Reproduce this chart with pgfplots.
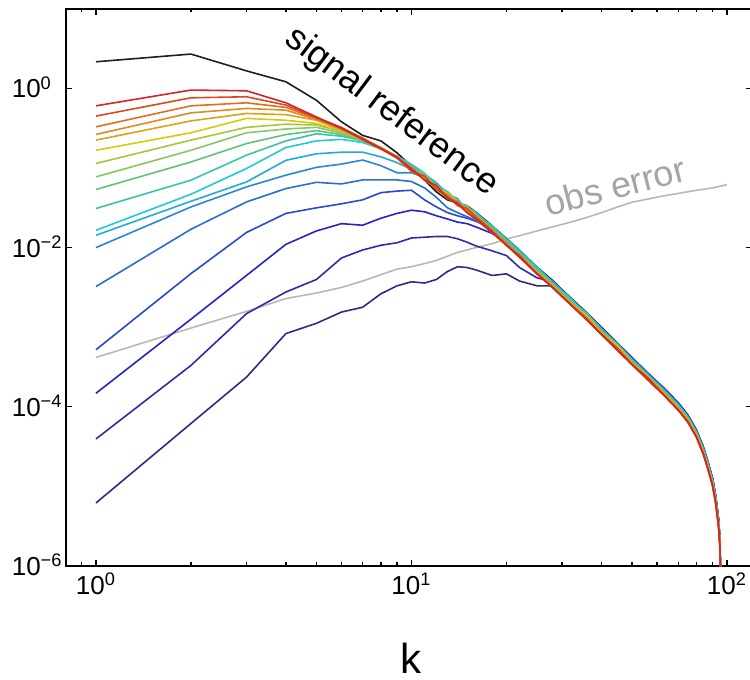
\documentclass[border=0pt]{standalone}
\usepackage{fontspec}
\setmainfont{Liberation Sans}
\usepackage{pgfplots}
\pgfplotsset{compat=1.18}
\usepackage{pgfplotstable}
\definecolor{col1}{HTML}{2C2C84}
\definecolor{col2}{HTML}{2C2CA8}
\definecolor{col3}{HTML}{2424C8}
\definecolor{col4}{HTML}{2A48D0}
\definecolor{col5}{HTML}{2A6CD2}
\definecolor{col6}{HTML}{2A86D8}
\definecolor{col7}{HTML}{26A8DC}
\definecolor{col8}{HTML}{22C8D4}
\definecolor{col9}{HTML}{3EC2A8}
\definecolor{col10}{HTML}{62C27A}
\definecolor{col11}{HTML}{86C768}
\definecolor{col12}{HTML}{A6C63C}
\definecolor{col13}{HTML}{D4CA10}
\definecolor{col14}{HTML}{D9A318}
\definecolor{col15}{HTML}{E08A22}
\definecolor{col16}{HTML}{DE6E22}
\definecolor{col17}{HTML}{D64A22}
\definecolor{col18}{HTML}{D42424}
\definecolor{sigblack}{HTML}{1E1E1E}
\definecolor{obsgray}{HTML}{B8B8B8}
\definecolor{obstext}{HTML}{A4A4A4}

\pgfplotstableread{
k  s       L1      L2      L3      L4      L5      L6      L7      L8      L9      L10     L11     L12     L13     L14     L15     L16     L17     L18
1  2.16    6.19e-6 3.95e-5 1.48e-4 5.21e-4 3.24e-3 1.00e-2 1.43e-2 1.65e-2 3.10e-2 5.37e-2 7.74e-2 1.14e-1 1.67e-1 2.24e-1 2.64e-1 3.29e-1 4.49e-1 6.04e-1
2  2.70    6.17e-5 3.31e-4 1.26e-3 4.71e-3 1.70e-2 3.24e-2 3.82e-2 4.68e-2 7.03e-2 1.19e-1 1.67e-1 2.24e-1 2.77e-1 3.91e-1 4.93e-1 6.04e-1 7.62e-1 9.53e-1
3  1.66    2.36e-4 1.48e-3 4.47e-3 1.55e-2 3.75e-2 5.79e-2 6.68e-2 9.86e-2 1.45e-1 2.03e-1 2.77e-1 3.24e-1 4.20e-1 4.84e-1 5.60e-1 6.59e-1 7.85e-1 9.33e-1
4  1.21    8.32e-4 2.77e-3 1.10e-2 2.69e-2 5.52e-2 8.13e-2 1.25e-1 1.81e-1 2.19e-1 2.63e-1 3.09e-1 3.55e-1 3.98e-1 4.68e-1 5.33e-1 5.77e-1 6.17e-1 6.59e-1
5  7.08e-1 1.12e-3 3.98e-3 1.62e-2 3.16e-2 6.61e-2 1.02e-1 1.51e-1 2.19e-1 2.69e-1 2.95e-1 3.24e-1 3.47e-1 3.63e-1 3.98e-1 4.07e-1 4.17e-1 4.27e-1 4.37e-1
6  3.80e-1 1.55e-3 7.41e-3 2.00e-2 3.55e-2 6.31e-2 1.12e-1 1.58e-1 2.29e-1 2.51e-1 2.63e-1 2.75e-1 2.88e-1 2.95e-1 3.02e-1 3.16e-1 3.09e-1 3.24e-1 3.16e-1
7  2.57e-1 1.78e-3 9.33e-3 1.91e-2 3.98e-2 7.08e-2 1.26e-1 1.58e-1 2.09e-1 2.19e-1 2.19e-1 2.24e-1 2.29e-1 2.29e-1 2.34e-1 2.40e-1 2.29e-1 2.34e-1 2.29e-1
8  2.19e-1 2.63e-3 1.07e-2 2.34e-2 4.90e-2 7.08e-2 1.07e-1 1.38e-1 1.74e-1 1.78e-1 1.74e-1 1.78e-1 1.74e-1 1.78e-1 1.82e-1 1.78e-1 1.74e-1 1.78e-1 1.74e-1
9  1.55e-1 3.31e-3 1.15e-2 2.69e-2 5.13e-2 7.08e-2 8.71e-2 1.17e-1 1.41e-1 1.38e-1 1.35e-1 1.38e-1 1.35e-1 1.38e-1 1.38e-1 1.32e-1 1.35e-1 1.38e-1 1.35e-1
10 1.05e-1 3.72e-3 1.32e-2 2.95e-2 5.25e-2 6.76e-2 8.71e-2 9.55e-2 1.11e-1 1.07e-1 1.02e-1 9.66e-2 1.02e-1 9.12e-2 9.66e-2 9.12e-2 1.02e-1 9.12e-2 9.66e-2
11 7.08e-2 3.59e-3 1.35e-2 2.82e-2 3.98e-2 5.62e-2 7.59e-2 8.32e-2 8.61e-2 7.94e-2 7.50e-2 8.32e-2 7.08e-2 7.50e-2 7.94e-2 7.50e-2 7.08e-2 7.94e-2 7.08e-2
12 5.01e-2 3.98e-3 1.38e-2 2.51e-2 3.24e-2 4.27e-2 6.31e-2 6.53e-2 6.03e-2 6.31e-2 5.37e-2 5.69e-2 5.69e-2 6.03e-2 5.37e-2 5.37e-2 5.69e-2 5.37e-2 6.03e-2
13 3.98e-2 5.01e-3 1.38e-2 2.29e-2 2.75e-2 3.16e-2 4.90e-2 4.68e-2 5.07e-2 4.17e-2 4.42e-2 4.68e-2 4.90e-2 4.17e-2 4.42e-2 4.68e-2 4.17e-2 4.42e-2 4.17e-2
14 3.63e-2 5.75e-3 1.29e-2 2.09e-2 2.51e-2 2.75e-2 3.59e-2 4.12e-2 3.80e-2 3.59e-2 3.98e-2 3.39e-2 3.80e-2 3.59e-2 3.39e-2 3.39e-2 3.80e-2 3.39e-2 3.59e-2
15 3.35e-2 5.62e-3 1.17e-2 2.00e-2 2.34e-2 2.45e-2 3.09e-2 2.92e-2 3.24e-2 3.35e-2 2.75e-2 3.09e-2 2.92e-2 2.75e-2 3.24e-2 2.92e-2 2.75e-2 3.09e-2 2.75e-2
16 2.79e-2 5.25e-3 1.05e-2 1.82e-2 2.14e-2 2.19e-2 2.69e-2 2.69e-2 2.79e-2 2.57e-2 2.57e-2 2.43e-2 2.29e-2 2.43e-2 2.57e-2 2.29e-2 2.29e-2 2.43e-2 2.29e-2
18 1.88e-2 4.47e-3 9.12e-3 1.51e-2 1.74e-2 1.64e-2 1.82e-2 1.82e-2 1.74e-2 1.88e-2 1.74e-2 1.64e-2 1.55e-2 1.64e-2 1.64e-2 1.55e-2 1.55e-2 1.64e-2 1.55e-2
20 1.30e-2 4.68e-3 7.94e-3 1.15e-2 1.26e-2 1.20e-2 1.26e-2 1.30e-2 1.20e-2 1.26e-2 1.20e-2 1.14e-2 1.14e-2 1.07e-2 1.14e-2 1.07e-2 1.14e-2 1.07e-2 1.07e-2
22 9.23e-3 3.80e-3 5.62e-3 7.94e-3 8.91e-3 8.91e-3 8.51e-3 9.23e-3 8.91e-3 8.51e-3 8.51e-3 8.04e-3 8.04e-3 8.04e-3 7.59e-3 7.59e-3 7.59e-3 8.04e-3 7.59e-3
25 5.69e-3 3.31e-3 4.17e-3 5.50e-3 5.50e-3 5.25e-3 5.50e-3 5.50e-3 5.69e-3 5.25e-3 5.25e-3 4.95e-3 4.95e-3 4.95e-3 4.95e-3 4.68e-3 4.68e-3 4.68e-3 4.68e-3
28 3.85e-3 3.31e-3 3.72e-3 3.85e-3 3.72e-3 3.72e-3 3.72e-3 3.72e-3 3.55e-3 3.55e-3 3.55e-3 3.35e-3 3.35e-3 3.35e-3 3.35e-3 3.16e-3 3.16e-3 3.16e-3 3.16e-3
32 2.32e-3 2.32e-3 2.32e-3 2.24e-3 2.24e-3 2.24e-3 2.24e-3 2.24e-3 2.32e-3 2.14e-3 2.14e-3 2.02e-3 2.02e-3 2.02e-3 2.02e-3 1.91e-3 1.91e-3 1.91e-3 1.91e-3
36 1.50e-3 1.50e-3 1.45e-3 1.50e-3 1.45e-3 1.45e-3 1.45e-3 1.45e-3 1.38e-3 1.50e-3 1.38e-3 1.30e-3 1.30e-3 1.38e-3 1.30e-3 1.23e-3 1.30e-3 1.23e-3 1.23e-3
40 9.89e-4 9.89e-4 9.89e-4 9.89e-4 9.55e-4 9.55e-4 9.55e-4 9.55e-4 9.12e-4 9.12e-4 9.12e-4 8.61e-4 8.61e-4 8.61e-4 8.61e-4 8.13e-4 8.13e-4 8.13e-4 8.13e-4
45 6.24e-4 6.24e-4 6.03e-4 6.24e-4 6.03e-4 6.24e-4 6.03e-4 6.03e-4 5.75e-4 5.75e-4 6.03e-4 5.43e-4 5.43e-4 5.75e-4 5.43e-4 5.13e-4 5.13e-4 5.43e-4 5.13e-4
50 4.12e-4 4.12e-4 4.12e-4 4.12e-4 3.98e-4 3.98e-4 3.98e-4 3.98e-4 3.80e-4 3.80e-4 3.80e-4 3.59e-4 3.59e-4 3.59e-4 3.59e-4 3.39e-4 3.39e-4 3.39e-4 3.39e-4
56 2.66e-4 2.66e-4 2.66e-4 2.57e-4 2.57e-4 2.66e-4 2.57e-4 2.57e-4 2.45e-4 2.45e-4 2.45e-4 2.32e-4 2.45e-4 2.32e-4 2.32e-4 2.19e-4 2.19e-4 2.19e-4 2.32e-4
63 1.72e-4 1.72e-4 1.72e-4 1.72e-4 1.66e-4 1.66e-4 1.66e-4 1.66e-4 1.59e-4 1.59e-4 1.59e-4 1.50e-4 1.50e-4 1.50e-4 1.50e-4 1.41e-4 1.41e-4 1.41e-4 1.41e-4
70 1.12e-4 1.12e-4 1.12e-4 1.12e-4 1.08e-4 1.08e-4 1.08e-4 1.08e-4 1.03e-4 1.03e-4 1.03e-4 9.70e-5 9.70e-5 9.70e-5 9.70e-5 9.15e-5 9.15e-5 9.15e-5 9.15e-5
75 7.94e-5 7.94e-5 7.94e-5 7.94e-5 7.67e-5 7.67e-5 7.67e-5 7.67e-5 7.41e-5 7.41e-5 7.41e-5 6.92e-5 6.92e-5 6.92e-5 6.92e-5 6.53e-5 6.53e-5 6.53e-5 6.53e-5
80 5.07e-5 5.07e-5 5.07e-5 5.07e-5 4.90e-5 4.90e-5 4.90e-5 4.90e-5 4.68e-5 4.68e-5 4.68e-5 4.42e-5 4.42e-5 4.42e-5 4.42e-5 4.17e-5 4.17e-5 4.17e-5 4.17e-5
84 3.16e-5 3.16e-5 3.16e-5 3.16e-5 3.05e-5 3.05e-5 3.05e-5 3.05e-5 2.92e-5 2.92e-5 2.92e-5 2.75e-5 2.75e-5 2.75e-5 2.75e-5 2.60e-5 2.60e-5 2.60e-5 2.60e-5
87 2.02e-5 2.02e-5 2.02e-5 2.02e-5 1.95e-5 1.95e-5 1.95e-5 1.95e-5 1.86e-5 1.86e-5 1.86e-5 1.76e-5 1.76e-5 1.76e-5 1.76e-5 1.66e-5 1.66e-5 1.66e-5 1.66e-5
90 1.25e-5 1.25e-5 1.25e-5 1.25e-5 1.20e-5 1.20e-5 1.20e-5 1.20e-5 1.15e-5 1.15e-5 1.15e-5 1.08e-5 1.08e-5 1.08e-5 1.08e-5 1.02e-5 1.02e-5 1.02e-5 1.02e-5
92 7.67e-6 7.67e-6 7.67e-6 7.67e-6 7.41e-6 7.41e-6 7.41e-6 7.41e-6 7.08e-6 7.08e-6 7.08e-6 6.68e-6 6.68e-6 6.68e-6 6.68e-6 6.31e-6 6.31e-6 6.31e-6 6.31e-6
94 3.85e-6 3.85e-6 3.85e-6 3.85e-6 3.72e-6 3.72e-6 3.72e-6 3.72e-6 3.55e-6 3.55e-6 3.55e-6 3.35e-6 3.35e-6 3.35e-6 3.35e-6 3.16e-6 3.16e-6 3.16e-6 3.16e-6
95 2.07e-6 2.07e-6 2.07e-6 2.07e-6 2.00e-6 2.00e-6 2.00e-6 2.00e-6 1.91e-6 1.91e-6 1.91e-6 1.80e-6 1.80e-6 1.80e-6 1.80e-6 1.70e-6 1.70e-6 1.70e-6 1.70e-6
96 1e-7    1e-7    1e-7    1e-7    1e-7    1e-7    1e-7    1e-7    1e-7    1e-7    1e-7    1e-7    1e-7    1e-7    1e-7    1e-7    1e-7    1e-7    1e-7
}\spec

\begin{document}
\begin{tikzpicture}
\begin{axis}[
  name=ax,
  xmode=log, ymode=log,
  scale only axis,
  width=343pt, height=278.6pt,
  xmin=0.8035, xmax=120, ymin=1e-6, ymax=10,
  xtick={1,10,100},
  xticklabels={10\textsuperscript{0},10\textsuperscript{1},10\textsuperscript{2}},
  minor xtick={0.9,2,3,4,5,6,7,8,9,20,30,40,50,60,70,80,90},
  ytick={1e-6,1e-4,1e-2,1},
  yticklabels={10\textsuperscript{−6},10\textsuperscript{−4},10\textsuperscript{−2},10\textsuperscript{0}},
  yminorticks=false,
  tick align=inside,
  major tick length=3pt, minor tick length=1.8pt,
  every tick/.style={black, line width=0.6pt},
  axis line style={line width=0.9pt},
  tick label style={font=\fontsize{13}{15}\selectfont},
  yticklabel style={anchor=base west, inner sep=0pt, xshift=-27.3pt, yshift=-4.7pt},
  xlabel={k},
  xlabel style={at={(axis description cs:0.503,0)}, anchor=base, yshift=-53.5pt, font=\fontsize{21}{25}\selectfont},
  every axis plot/.append style={line width=0.8pt, line join=round},
  clip=true,
]
\addplot[draw=obsgray] coordinates {
(1,4.17e-4) (2,9.77e-4) (3,1.58e-3) (4,2.29e-3) (5,2.69e-3) (6,3.16e-3) (7,3.80e-3) (8,4.57e-3) (9,5.37e-3) (10,5.75e-3) (11,6.31e-3) (12,6.92e-3) (14,8.71e-3) (16,1.00e-2) (18,1.12e-2) (20,1.29e-2) (22,1.41e-2) (25,1.62e-2) (28,1.82e-2) (32,2.09e-2) (36,2.40e-2) (40,2.75e-2) (45,3.24e-2) (50,3.72e-2) (56,4.07e-2) (63,4.47e-2) (70,4.79e-2) (80,5.25e-2) (90,5.62e-2) (100,6.17e-2)
};
\addplot[draw=sigblack] table[x=k,y=s]{\spec};
\pgfplotsinvokeforeach{1,...,18}{
  \addplot[draw=col#1] table[x=k,y=L#1]{\spec};
}
\node[rotate=-37, font=\fontsize{18}{20}\selectfont, inner sep=0pt] at (axis cs:8.645,0.499) {signal reference};
\node[rotate=14.5, text=obstext, font=\fontsize{18}{20}\selectfont, inner sep=0pt] at (axis cs:44.1,0.059) {obs error};
\end{axis}
\pgfresetboundingbox
\path[use as bounding box] ([shift={(-33pt,-57pt)}]ax.south west) rectangle ([shift={(342pt,283pt)}]ax.south west);
\end{tikzpicture}
\end{document}
